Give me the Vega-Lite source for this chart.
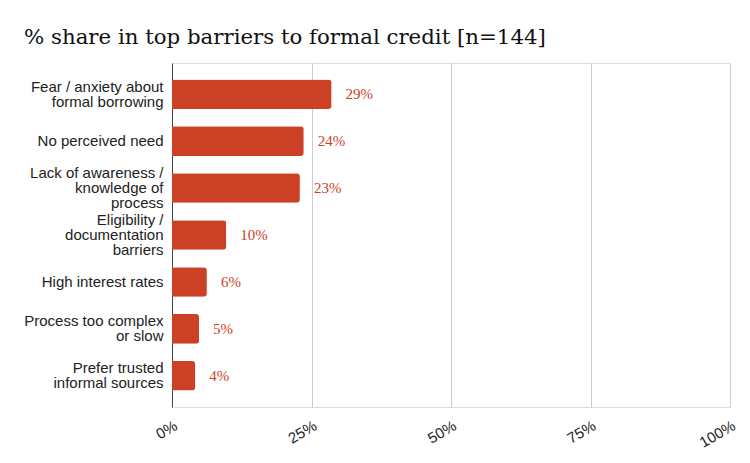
{
  "$schema": "https://vega.github.io/schema/vega-lite/v6.json",
  "width": 558,
  "height": 344,
  "autosize": {"type": "none"},
  "padding": {"left": 172, "top": 63, "right": 20, "bottom": 56},
  "background": "white",
  "title": {
    "text": "% share in top barriers to formal credit [n=144]",
    "anchor": "start",
    "frame": "group",
    "dx": -148,
    "offset": 15,
    "font": "DejaVu Serif",
    "fontSize": 21.3,
    "fontWeight": "normal",
    "color": "#111111"
  },
  "data": {
    "values": [
      {"barrier": "Fear / anxiety about|formal borrowing", "share": 0.286},
      {"barrier": "No perceived need", "share": 0.2361},
      {"barrier": "Lack of awareness /|knowledge of|process", "share": 0.2292},
      {"barrier": "Eligibility /|documentation|barriers", "share": 0.0972},
      {"barrier": "High interest rates", "share": 0.0625},
      {"barrier": "Process too complex|or slow", "share": 0.0486},
      {"barrier": "Prefer trusted|informal sources", "share": 0.0417}
    ]
  },
  "encoding": {
    "y": {
      "field": "barrier",
      "type": "nominal",
      "sort": null,
      "title": null,
      "scale": {"paddingInner": 0.37, "paddingOuter": 0.35},
      "axis": {
        "labelExpr": "split(datum.label, '|')",
        "labelFont": "Liberation Sans",
        "labelFontSize": 15,
        "labelColor": "#222222",
        "labelLineHeight": 15,
        "labelPadding": 9,
        "ticks": false,
        "domain": true,
        "domainColor": "#444444",
        "labelLimit": 200,
        "labelOffset": {
          "condition": [
            {"test": "length(split(datum.value, '|')) == 3", "value": -15},
            {"test": "length(split(datum.value, '|')) == 2", "value": -7.5}
          ],
          "value": 0
        }
      }
    },
    "x": {
      "field": "share",
      "type": "quantitative",
      "title": null,
      "scale": {"domain": [0, 1]},
      "axis": {
        "values": [0, 0.25, 0.5, 0.75, 1],
        "format": ".0%",
        "labelAngle": -30,
        "labelFont": "Liberation Sans",
        "labelFontSize": 15,
        "labelColor": "#222222",
        "labelPadding": 11,
        "domain": false,
        "ticks": false,
        "grid": true,
        "gridColor": "#cccccc"
      }
    }
  },
  "layer": [
    {
      "mark": {"type": "bar", "color": "#cc4125", "cornerRadiusEnd": 3}
    },
    {
      "mark": {
        "type": "text",
        "align": "left",
        "dx": 14,
        "font": "Liberation Serif",
        "fontSize": 15,
        "color": "#cc4125"
      },
      "encoding": {
        "text": {"field": "share", "type": "quantitative", "format": ".0%"}
      }
    }
  ]
}
